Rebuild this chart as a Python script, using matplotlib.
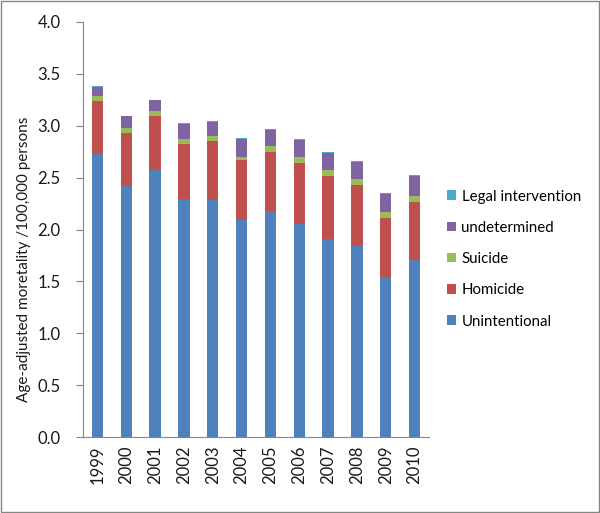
import numpy as np
import matplotlib.pyplot as plt

plt.rcParams['font.family'] = ['Lato', 'DejaVu Sans']

years = ["1999", "2000", "2001", "2002", "2003", "2004",
         "2005", "2006", "2007", "2008", "2009", "2010"]
unintentional = [2.73, 2.42, 2.57, 2.29, 2.28, 2.09, 2.175, 2.055, 1.91, 1.845, 1.545, 1.71]
homicide = [0.51, 0.51, 0.52, 0.53, 0.575, 0.58, 0.575, 0.59, 0.61, 0.585, 0.565, 0.555]
suicide = [0.045, 0.05, 0.055, 0.05, 0.045, 0.03, 0.055, 0.05, 0.055, 0.055, 0.06, 0.055]
undetermined = [0.09, 0.11, 0.10, 0.15, 0.14, 0.17, 0.155, 0.165, 0.165, 0.17, 0.175, 0.195]
legal = [0.008, 0.008, 0.008, 0.008, 0.008, 0.008, 0.008, 0.008, 0.008, 0.008, 0.008, 0.008]

series = [
    ("Unintentional", unintentional, "#4F81BD"),
    ("Homicide", homicide, "#C0504D"),
    ("Suicide", suicide, "#9BBB59"),
    ("undetermined", undetermined, "#8064A2"),
    ("Legal intervention", legal, "#4BACC6"),
]

fig = plt.figure(figsize=(6.0, 5.13), dpi=100)
ax = fig.add_axes([83 / 600, 1 - 437 / 513, 346 / 600, 415 / 513])

x = np.arange(len(years))
bottom = np.zeros(len(years))
for name, vals, color in series:
    ax.bar(x, vals, width=0.39, bottom=bottom, color=color, label=name)
    bottom += np.array(vals)

ax.set_xlim(-0.5, len(years) - 0.5)
ax.set_ylim(0, 4.0)
yt = np.arange(0, 4.01, 0.5)
ax.set_yticks(yt)
ax.set_yticklabels([f"{v:.1f}" for v in yt], fontsize=12, color='#1a1a1a')
ax.set_xticks(x)
ax.set_xticklabels(years, rotation=90, fontsize=12, color='#1a1a1a')
ax.tick_params(axis='x', length=0, pad=6)
ax.tick_params(axis='y', length=5, color='#868686', direction='out', pad=11)

for s in ['top', 'right']:
    ax.spines[s].set_visible(False)
for s in ['left', 'bottom']:
    ax.spines[s].set_color('#868686')

ax.set_ylabel("Age-adjusted moretality /100,000 persons", fontsize=11, color='#1a1a1a')
ax.yaxis.set_label_coords(-0.15, 0.427)

handles, labels = ax.get_legend_handles_labels()
fig.legend(handles[::-1], labels[::-1], loc='upper left',
           bbox_to_anchor=(433 / 600, 1 - 176 / 513), frameon=False,
           fontsize=10.8, handlelength=0.6, handleheight=0.6,
           handletextpad=0.4, labelspacing=1.15)

fig.patches.append(plt.Rectangle((0.001, 0.001), 0.997, 0.997, transform=fig.transFigure,
                                 fill=False, edgecolor='#868686', linewidth=1))

fig.savefig("out.png", dpi=100)
